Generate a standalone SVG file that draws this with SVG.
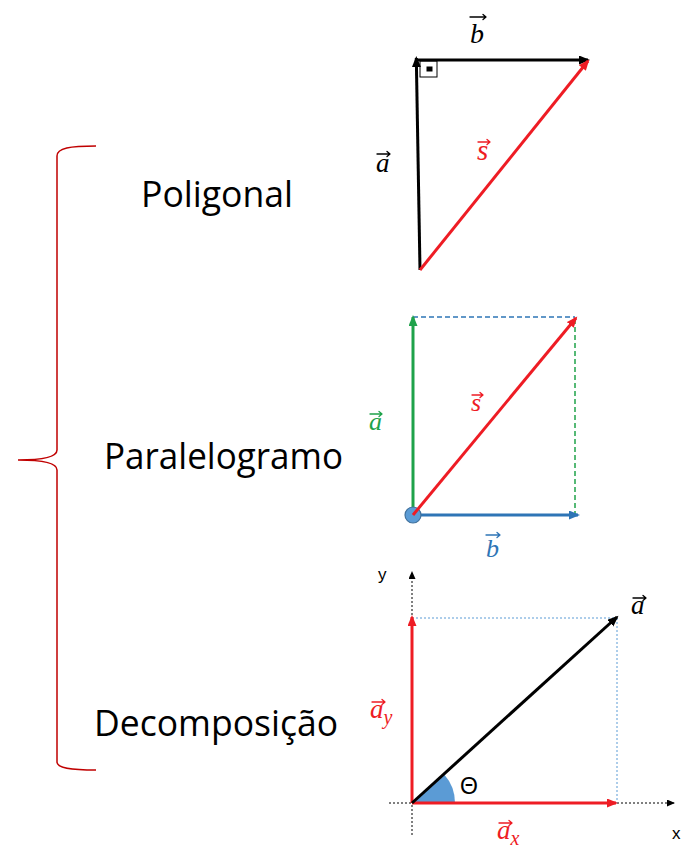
<svg xmlns="http://www.w3.org/2000/svg" width="685" height="858" viewBox="0 0 685 858">
<style>
.lbl{font-family:"Open Sans","Liberation Sans",sans-serif;font-size:36px;fill:#000}
.m{font-family:"Liberation Serif","DejaVu Serif",serif;font-style:italic}
.acc{fill:none;stroke-width:1.3;stroke-linecap:round;stroke-linejoin:round}
.ax{font-family:"Liberation Sans",sans-serif;font-size:17px;fill:#000}
</style>
<defs>
<marker id="hk" markerUnits="userSpaceOnUse" markerWidth="12" markerHeight="10" refX="9" refY="4.5" orient="auto"><path d="M0,0 L11,4.5 L0,9 z" fill="#000"/></marker>
<marker id="hr" markerUnits="userSpaceOnUse" markerWidth="12" markerHeight="10" refX="9" refY="4.5" orient="auto"><path d="M0,0 L11,4.5 L0,9 z" fill="#ee1c24"/></marker>
<marker id="hg" markerUnits="userSpaceOnUse" markerWidth="12" markerHeight="10" refX="9" refY="4.5" orient="auto"><path d="M0,0 L11,4.5 L0,9 z" fill="#1fa24a"/></marker>
<marker id="hb" markerUnits="userSpaceOnUse" markerWidth="12" markerHeight="10" refX="9" refY="4.5" orient="auto"><path d="M0,0 L11,4.5 L0,9 z" fill="#2e75b6"/></marker>
<marker id="hs" markerUnits="userSpaceOnUse" markerWidth="9" markerHeight="8" refX="7" refY="3.5" orient="auto"><path d="M0,0 L8,3.5 L0,7 z" fill="#000"/></marker>
</defs>

<g id="brace">
<path d="M96,146 C70,146 57,148 57,156 L57,450 C57,458 40,460 18,460 C40,460 57,462 57,470 L57,762 C57,768 70,770 96,770" fill="none" stroke="#c00000" stroke-width="1.5"/>
</g>

<g id="titles">
<text class="lbl" x="141" y="207" textLength="152" lengthAdjust="spacingAndGlyphs">Poligonal</text>
<text class="lbl" x="104" y="469" textLength="239" lengthAdjust="spacingAndGlyphs">Paralelogramo</text>
<text class="lbl" x="94" y="736" textLength="244" lengthAdjust="spacingAndGlyphs">Decomposição</text>
</g>

<g id="poligonal">
<g id="connectors-poligonal">
<line x1="420" y1="270" x2="416.3" y2="58" stroke="#000" stroke-width="3" marker-end="url(#hk)"/>
<line x1="415" y1="60" x2="588" y2="60" stroke="#000" stroke-width="3" marker-end="url(#hk)"/>
<line x1="420" y1="270" x2="588" y2="61" stroke="#ee1c24" stroke-width="3" marker-end="url(#hr)"/>
</g>
<rect x="420" y="61" width="17" height="16" fill="none" stroke="#000" stroke-width="1"/>
<rect x="426.5" y="66.5" width="6" height="5" fill="#000"/>
<text class="m" x="470" y="43" font-size="28" fill="#000">b</text>
<path class="acc" stroke="#000" d="M470,17 H486 M483,14.5 L486,17 L483,19.5"/>
<text class="m" x="376" y="172" font-size="27" fill="#000">a</text>
<path class="acc" stroke="#000" d="M377,154 H390 M387,151.5 L390,154 L387,156.5"/>
<text class="m" x="477" y="160" font-size="29" fill="#ee1c24">s</text>
<path class="acc" stroke="#ee1c24" d="M478,142 H490 M487,139.5 L490,142 L487,144.5"/>
</g>

<g id="paralelogramo">
<line x1="413" y1="317" x2="575" y2="317" stroke="#2e75b6" stroke-width="1.5" stroke-dasharray="5,3"/>
<line x1="575" y1="319" x2="575" y2="515" stroke="#1fa24a" stroke-width="1.5" stroke-dasharray="5,3"/>
<line x1="413" y1="515" x2="413" y2="317" stroke="#1fa24a" stroke-width="3" marker-end="url(#hg)"/>
<line x1="413" y1="515" x2="578" y2="515" stroke="#2e75b6" stroke-width="3" marker-end="url(#hb)"/>
<circle cx="413" cy="515" r="8" fill="#5b9bd5" stroke="#41719c" stroke-width="1.2"/>
<line x1="413" y1="515" x2="576" y2="318" stroke="#ee1c24" stroke-width="3" marker-end="url(#hr)"/>
<text class="m" x="471" y="411" font-size="26" fill="#ee1c24">s</text>
<path class="acc" stroke="#ee1c24" d="M472,395 H483 M480,392.5 L483,395 L480,397.5"/>
<text class="m" x="369" y="430" font-size="26" fill="#1fa24a">a</text>
<path class="acc" stroke="#1fa24a" d="M370,414 H382 M379,411.5 L382,414 L379,416.5"/>
<text class="m" x="486" y="557" font-size="26" fill="#2e75b6">b</text>
<path class="acc" stroke="#2e75b6" d="M486,535 H500 M497,532.5 L500,535 L497,537.5"/>
</g>

<g id="decomposicao">
<line x1="412" y1="835" x2="412" y2="572" stroke="#000" stroke-width="1" stroke-dasharray="2,2" marker-end="url(#hs)"/>
<line x1="389" y1="803" x2="674" y2="803" stroke="#000" stroke-width="1" stroke-dasharray="2,2" marker-end="url(#hs)"/>
<line x1="412" y1="618" x2="617" y2="618" stroke="#5b9bd5" stroke-width="1" stroke-dasharray="2,2"/>
<line x1="617" y1="618" x2="617" y2="803" stroke="#5b9bd5" stroke-width="1" stroke-dasharray="2,2"/>
<path d="M412,803 L455,803 A43,43 0 0 0 444,774.2 Z" fill="#5b9bd5"/>
<line x1="412" y1="803" x2="412" y2="617" stroke="#ee1c24" stroke-width="3" marker-end="url(#hr)"/>
<line x1="412" y1="803" x2="616" y2="803" stroke="#ee1c24" stroke-width="3" marker-end="url(#hr)"/>
<line x1="412" y1="803" x2="617" y2="617" stroke="#000" stroke-width="3" marker-end="url(#hk)"/>
<text class="ax" x="378" y="580">y</text>
<text class="ax" x="672" y="839">x</text>
<text x="460" y="794" font-family="Liberation Sans,sans-serif" font-size="23" fill="#000">Θ</text>
<text class="m" x="631" y="614" font-size="27" fill="#000">a</text>
<path class="acc" stroke="#000" d="M633,598 H646 M643,595.5 L646,598 L643,600.5"/>
<text class="m" x="370" y="718" font-size="27" fill="#ee1c24">a<tspan font-size="20" dy="6">y</tspan></text>
<path class="acc" stroke="#ee1c24" d="M372,702 H385 M382,699.5 L385,702 L382,704.5"/>
<text class="m" x="497" y="839" font-size="27" fill="#ee1c24">a<tspan font-size="20" dy="6">x</tspan></text>
<path class="acc" stroke="#ee1c24" d="M499,823 H512 M509,820.5 L512,823 L509,825.5"/>
</g>
</svg>
